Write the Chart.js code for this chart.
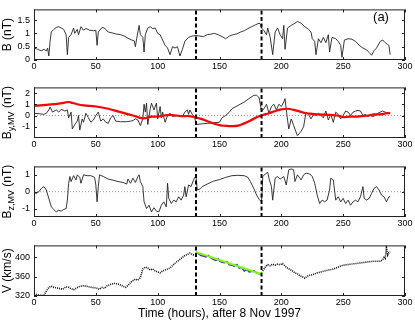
<!DOCTYPE html>
<html>
<head>
<meta charset="utf-8">
<script src="https://cdn.jsdelivr.net/npm/chart.js@4"></script>
<style>
html, body { margin: 0; padding: 0; background: #fff; }
#wrap { position: relative; width: 415px; height: 322px; overflow: hidden; }
canvas { position: absolute; left: 0; }
</style>
</head>
<body>
<div id="wrap">
  <canvas id="c1" width="415" height="79" style="top:0px;width:415px;height:79px"></canvas>
  <canvas id="c2" width="415" height="79" style="top:78px;width:415px;height:79px"></canvas>
  <canvas id="c3" width="415" height="79" style="top:157px;width:415px;height:79px"></canvas>
  <canvas id="c4" width="415" height="86" style="top:236px;width:415px;height:86px"></canvas>
</div>
<script>
const FONT = 'Liberation Sans, Arial, Helvetica, sans-serif';

// x axis (hours after 8 Nov 1997) and the two interval boundaries
const xTicks = [0, 50, 100, 150, 200, 250, 300];
const boundaries = [131, 184];

// panel 1: |B| (nT)
const bTime = [0,2,4,6,8,10,11,12,13,14,16,18,20,22,24,26,27,28,30,32,33,35,36,38,40,42,45,48,50,51,52,55,57,60,63,66,70,73,76,79,81,82,83,85,86,88,89,90,92,94,96,98,100,102,104,106,108,110,112,114,116,118,120,122,125,128,131,134,137,140,143,146,149,152,155,158,161,164,167,170,173,176,179,182,183,184,186,188,189,191,193,195,197,199,201,202,203,205,208,211,213,216,219,222,224,225,227,228,230,232,234,236,238,239,241,244,246,248,249,251,254,257,260,263,266,269,271,273,275,277,280,282,284,286,287,288];
const bVal = [0.45,0.42,0.38,0.35,0.40,0.34,0.45,0.15,0.70,1.05,1.15,1.22,1.25,1.20,1.15,0.95,0.20,0.85,0.95,1.20,1.00,1.15,0.95,1.25,1.12,1.18,1.12,1.10,1.12,0.55,1.05,1.22,1.20,1.05,1.02,0.98,0.95,0.90,0.82,0.75,0.72,0.50,0.80,1.30,0.95,0.85,0.30,0.95,1.20,1.25,1.18,1.20,1.00,0.95,0.75,0.55,0.45,0.20,0.50,0.45,0.50,0.15,0.40,0.70,0.85,0.90,0.92,0.90,0.88,0.95,0.97,1.00,0.95,0.88,0.80,0.90,0.95,0.98,1.05,1.10,1.18,1.25,1.32,1.38,1.35,1.20,1.10,0.95,1.20,0.85,0.20,1.05,1.20,0.95,0.80,1.30,0.40,1.20,1.30,1.38,1.45,1.38,1.25,1.15,1.05,0.80,0.70,0.20,0.80,0.65,0.85,0.65,0.95,0.30,0.85,0.80,0.70,0.55,0.10,0.75,0.80,0.78,0.70,0.55,0.45,0.38,0.28,0.18,0.35,0.45,0.70,0.75,0.65,0.58,0.55,0.20];
const bTicks = [0, 0.5, 1, 1.5];

// panel 2: B_y,MV (nT) and its smoothed trend (red)
const byTime = [0,5,8,10,12,13,15,18,20,22,25,27,28,30,31,33,35,36,37,39,40,42,44,46,48,50,52,54,56,58,60,62,64,66,70,75,78,80,82,84,86,88,89,90,91,92,94,95,97,99,100,102,103,104,106,108,110,112,115,118,120,122,124,125,126,128,130,131,135,140,145,150,152,155,158,160,165,170,175,178,180,182,183,184,186,188,190,192,194,196,198,200,202,203,204,206,208,210,213,216,218,220,222,224,226,228,230,232,234,236,238,240,242,244,246,248,250,252,254,256,258,260,262,264,266,268,270,272,274,276,278,280,282,284,286,288];
const byVal = [0.2,0.15,0.1,0.2,0.5,0.75,0.3,0.5,0.3,0.55,0.4,0.5,-0.2,0.3,-1.2,-0.8,-0.5,0.0,-1.3,-0.3,-0.6,0.2,-0.2,-0.6,-0.4,0.0,0.3,-0.5,-0.3,-0.6,-0.7,-0.2,0.0,-0.5,-0.55,-0.55,-0.5,-0.45,-0.3,-0.4,-0.9,-0.3,1.0,0.3,1.1,-0.8,0.6,1.1,0.5,1.1,-0.3,0.8,-0.2,0.3,-0.6,0.0,0.2,-0.1,0.0,-0.1,-0.1,0.3,0.5,0.1,0.5,0.1,-0.2,-0.8,-0.75,-0.7,-0.65,-0.6,-0.2,0.0,0.3,0.6,0.9,1.2,1.6,1.8,1.8,1.6,1.0,0.4,0.6,1.0,0.2,0.8,1.0,0.5,1.0,0.8,1.2,1.5,0.5,-1.2,-0.3,-0.9,-1.8,-1.4,-1.0,0.3,0.1,-0.3,0.1,0.0,0.2,0.0,-0.2,0.4,-0.4,0.1,-0.6,0.3,0.1,-0.3,0.0,0.4,0.3,0.0,0.3,0.4,0.45,0.4,0.0,0.1,-0.1,0.0,-0.1,0.0,0.2,0.3,0.4,0.3,0.2,0.2];
const trendTime = [0,10,20,28,30,35,40,50,60,70,80,88,95,100,105,110,115,120,125,130,135,140,145,150,155,160,165,170,175,180,185,190,195,200,205,210,215,220,225,230,240,245,250,255,260,265,270,275,280,285,288];
const trendVal = [0.85,0.95,1.05,1.2,1.15,1.0,0.9,0.8,0.6,0.3,0.0,-0.25,-0.1,-0.1,0.0,0.05,0.0,-0.05,-0.05,-0.15,-0.3,-0.5,-0.7,-0.85,-0.92,-0.95,-0.9,-0.7,-0.45,-0.15,0.05,0.2,0.4,0.55,0.6,0.5,0.35,0.2,0.15,0.1,0.05,0.0,-0.15,-0.1,-0.1,-0.05,0.0,0.1,0.1,0.2,0.2];
const byTicks = [-1, 0, 1, 2];

// panel 3: B_z,MV (nT)
const bzTime = [0,2,4,6,8,10,12,14,16,18,20,22,24,26,27,28,29,30,32,34,35,37,38,40,43,46,49,50,51,52,53,56,60,64,68,72,75,76,78,80,82,84,85,86,88,89,91,93,95,97,99,101,103,105,107,108,109,111,113,115,117,119,121,122,123,125,127,129,130,131,132,134,136,140,145,150,155,160,165,170,173,175,178,180,182,184,185,187,189,190,192,193,195,197,199,200,202,204,206,208,210,211,213,216,218,220,223,225,227,229,231,233,235,237,239,240,242,244,246,248,250,252,254,256,258,260,262,264,266,267,269,271,273,275,277,279,281,283,285,287,288];
const bzVal = [-0.05,-0.1,0.0,0.2,0.3,0.1,-0.4,-0.9,-1.05,-1.2,-1.1,-1.15,-1.05,-1.0,-0.5,0.5,0.9,0.6,0.95,0.7,1.0,0.85,0.5,1.0,0.95,0.95,0.85,0.4,-0.6,0.3,1.0,0.9,0.75,0.68,0.6,0.55,0.45,0.75,0.5,0.8,0.55,0.9,1.0,0.6,0.3,-0.6,-1.0,-0.8,-1.2,-0.95,-1.15,-1.2,-0.8,-0.6,-0.9,0.5,-0.4,-0.7,-0.5,-0.6,-0.3,-0.5,-0.2,0.3,-0.3,0.4,0.3,0.7,0.85,0.9,0.1,0.15,0.3,0.45,0.62,0.72,0.85,0.95,0.97,0.95,0.85,0.6,0.15,-0.2,-0.45,-0.6,0.9,1.05,1.15,0.8,0.3,-0.5,0.8,0.9,0.75,0.8,0.9,0.4,1.3,1.35,1.3,0.6,1.0,0.7,1.0,1.1,1.05,0.9,0.5,-0.2,-0.7,-0.5,-0.6,-0.5,0.1,0.8,0.7,-0.5,-0.3,-0.6,-0.4,-0.7,-0.5,-0.8,-0.6,-0.5,-0.6,-0.3,0.3,-0.4,-0.5,-0.4,-0.1,0.2,0.3,0.1,-0.2,-0.3,-0.6,-0.3,-0.3];
const bzTicks = [-1, 0, 1];

// panel 4: V (km/s), black outside the interval, blue inside, green linear fit
const vTime = [0,2,4,6,8,10,12,14,16,18,20,23,26,28,30,32,34,37,40,43,46,49,51,53,55,57,59,62,65,68,70,72,74,76,78,80,82,84,86,88,90,92,94,96,98,100,102,104,106,108,110,112,114,116,118,120,122,124,126,128,130,null,185,187,189,191,193,195,197,199,201,203,205,207,209,211,213,215,217,219,221,223,226,229,232,235,238,241,244,247,250,253,256,259,262,265,268,271,274,277,280,282,283,284,285,286,287,288];
const vVal = [325,323,322,321,322,330,338,340,338,337,336,334,339,338,335,333,336,340,341,340,338,337,336,334,338,336,341,344,346,345,343,340,338,342,348,352,355,353,358,376,380,378,374,376,372,370,368,372,374,376,378,383,388,392,396,400,404,406,409,406,404,null,372,380,385,383,386,384,386,385,387,382,378,375,372,368,366,362,360,357,361,363,365,368,370,372,374,375,378,381,384,385,386,387,388,389,390,391,392,392,392,395,400,398,420,405,410,412];
const vInTime = [131,133,135,137,139,141,143,145,147,149,150,152,154,156,158,160,162,164,166,168,170,172,174,176,178,180,182,184];
const vInVal = [411,408,404,403,401,404,399,396,394,397,393,390,389,391,385,384,382,385,378,379,372,375,370,371,372,368,366,365];
const fitTime = [131, 184];
const fitVal = [411, 365];
const vTicks = [320, 360, 400];

function pts(t, v) { return t.map((x, i) => ({ x: x, y: v[i] })); }

const frame = {
  id: 'frame',
  afterDraw(chart) {
    const ctx = chart.ctx, a = chart.chartArea, sx = chart.scales.x, sy = chart.scales.y;
    ctx.save();
    ctx.strokeStyle = '#222';
    ctx.lineWidth = 1;
    ctx.strokeRect(a.left + 0.5, a.top + 0.5, a.right - a.left - 1, a.bottom - a.top - 1);
    ctx.beginPath();
    sx.ticks.forEach(t => {
      const p = Math.round(sx.getPixelForValue(t.value)) + 0.5;
      ctx.moveTo(p, a.bottom); ctx.lineTo(p, a.bottom - 3);
      ctx.moveTo(p, a.top); ctx.lineTo(p, a.top + 3);
    });
    sy.ticks.forEach(t => {
      const p = Math.round(sy.getPixelForValue(t.value)) + 0.5;
      ctx.moveTo(a.left, p); ctx.lineTo(a.left + 3, p);
      ctx.moveTo(a.right, p); ctx.lineTo(a.right - 3, p);
    });
    ctx.stroke();
    ctx.restore();
  }
};

// rotated y title with a subscript, plus optional panel tag
const ytitle = {
  id: 'ytitle',
  afterDraw(chart, args, opts) {
    const ctx = chart.ctx, a = chart.chartArea;
    ctx.save();
    ctx.fillStyle = '#000';
    ctx.translate(7, (a.top + a.bottom) / 2);
    ctx.rotate(-Math.PI / 2);
    let w = 0;
    opts.parts.forEach(p => { ctx.font = p.size + 'px ' + FONT; w += ctx.measureText(p.text).width; });
    let x = -w / 2;
    ctx.textBaseline = 'alphabetic';
    opts.parts.forEach(p => {
      ctx.font = p.size + 'px ' + FONT;
      ctx.fillText(p.text, x, p.sub ? 7 : 4);
      x += ctx.measureText(p.text).width;
    });
    ctx.restore();
    if (opts.tag) {
      ctx.save();
      ctx.font = '13px ' + FONT;
      ctx.fillStyle = '#000';
      ctx.textAlign = 'center';
      ctx.textBaseline = 'middle';
      ctx.fillText(opts.tag, 381, 17);
      ctx.restore();
    }
  }
};

function boundaryLines(ymin, ymax) {
  return boundaries.map(b => ({
    data: [{ x: b, y: ymin }, { x: b, y: ymax }],
    borderColor: '#000', borderWidth: 2, borderDash: [4, 2.5], pointRadius: 0, order: 0
  }));
}

function zeroLine() {
  return {
    data: [{ x: xTicks[0], y: 0 }, { x: xTicks[xTicks.length - 1], y: 0 }],
    borderColor: '#999', borderWidth: 1, borderDash: [1, 2], pointRadius: 0, order: 9
  };
}

function makeChart(id, datasets, ymin, ymax, yt, titleParts, xh, xTitle, tag) {
  return new Chart(document.getElementById(id), {
    type: 'line',
    data: { datasets: datasets.concat(boundaryLines(ymin, ymax)) },
    options: {
      responsive: false,
      animation: false,
      events: [],
      layout: { padding: { top: 3, right: 10, left: 0, bottom: 0 } },
      elements: { line: { tension: 0 }, point: { radius: 0 } },
      plugins: {
        legend: { display: false },
        tooltip: { enabled: false },
        ytitle: { parts: titleParts, tag: tag }
      },
      scales: {
        x: {
          type: 'linear', min: 0, max: 300,
          grid: { display: false, drawTicks: false },
          border: { display: false },
          afterBuildTicks: s => { s.ticks = xTicks.map(v => ({ value: v })); },
          afterFit: s => { s.height = xh; },
          ticks: { padding: 1, color: '#000', font: { family: FONT, size: 9 }, maxRotation: 0, autoSkip: false, callback: v => String(v) },
          title: xTitle ? { display: true, text: xTitle, color: '#000', font: { family: FONT, size: 12 }, padding: { top: 0, bottom: 1 } } : { display: false }
        },
        y: {
          min: ymin, max: ymax,
          grid: { display: false, drawTicks: false },
          border: { display: false },
          afterBuildTicks: s => { s.ticks = yt.map(v => ({ value: v })); },
          afterFit: s => { s.width = 34; },
          ticks: { padding: 4, color: '#000', font: { family: FONT, size: 9 }, callback: v => String(v) }
        }
      }
    },
    plugins: [frame, ytitle]
  });
}

makeChart('c1', [
  { data: pts(bTime, bVal), borderColor: '#222', borderWidth: 0.9, order: 5 }
], 0, 1.9, bTicks, [{ text: 'B (nT)', size: 12 }], 19, null, '(a)');

makeChart('c2', [
  zeroLine(),
  { data: pts(byTime, byVal), borderColor: '#222', borderWidth: 0.9, order: 5 },
  { data: pts(trendTime, trendVal), borderColor: '#ff0000', borderWidth: 2.2, tension: 0.4, order: 2 }
], -2, 2.5, byTicks, [{ text: 'B', size: 12 }, { text: 'y,MV', size: 9, sub: true }, { text: ' (nT)', size: 12 }], 19, null, null);

makeChart('c3', [
  zeroLine(),
  { data: pts(bzTime, bzVal), borderColor: '#222', borderWidth: 0.9, order: 5 }
], -1.5, 1.5, bzTicks, [{ text: 'B', size: 12 }, { text: 'z,MV', size: 9, sub: true }, { text: ' (nT)', size: 12 }], 19, null, null);

makeChart('c4', [
  { data: pts(vTime, vVal), borderColor: '#111', borderWidth: 1.6, borderDash: [1, 1], spanGaps: false, order: 5 },
  { data: pts(vInTime, vInVal), borderColor: '#3b3bd0', borderWidth: 1.6, order: 3 },
  { data: pts(fitTime, fitVal), borderColor: '#7cfc00', borderWidth: 2, order: 1 }
], 320, 425, vTicks, [{ text: 'V (km/s)', size: 12 }], 26, 'Time (hours), after 8 Nov 1997', null);
</script>
</body>
</html>
